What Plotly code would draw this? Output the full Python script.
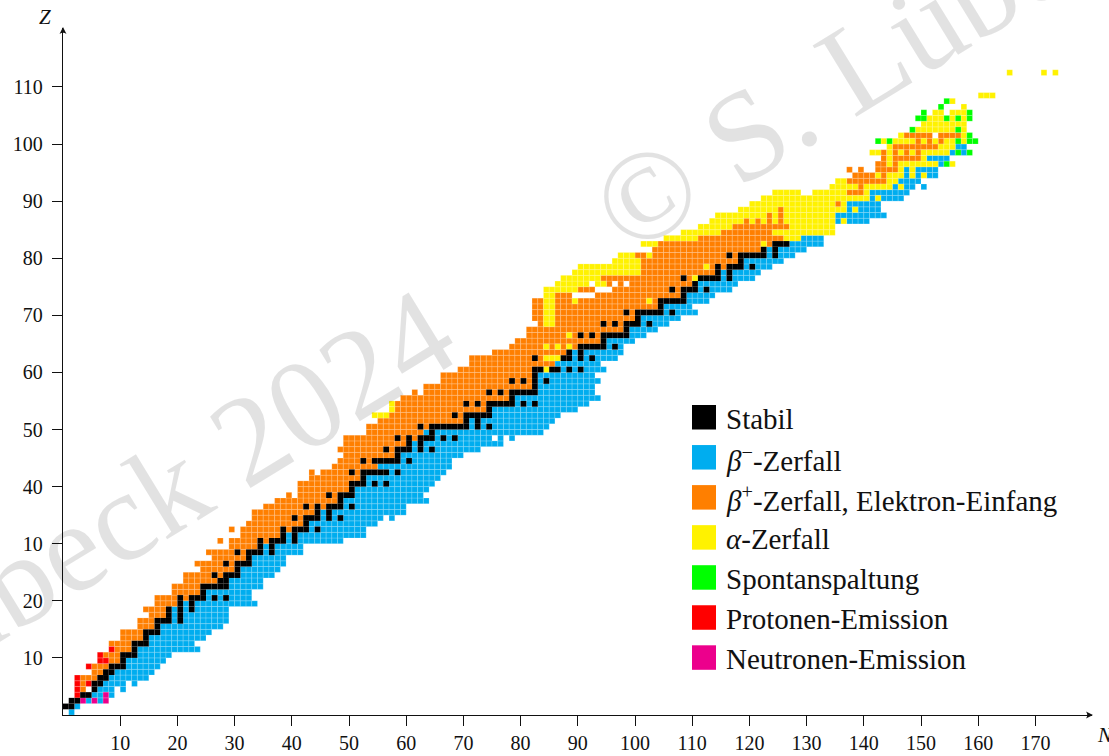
import plotly.graph_objects as go

# Rows of the nuclide chart: proton number, first neutron number, first beta-minus N, last N
row_z = list(range(0, 109)) + [112]
first_n = [1,0,1,2,2,2,2,5,4,6,6,8,8,10,10,13,13,15,14,16,16,19,19,21,21,24,23,26,25,29,
           27,31,29,32,33,33,35,37,39,41,41,43,43,47,48,49,48,49,49,53,53,55,54,57,57,59,61,63,66,66,
           69,71,71,75,78,79,81,81,83,82,82,82,82,84,84,86,87,89,90,96,97,103,101,105,108,111,113,114,118,120,
           122,124,134,135,138,137,142,143,141,144,142,146,148,150,149,150,153,154,160,165]
split_n = [0,2,3,5,6,7,8,9,11,11,13,13,15,15,17,17,19,19,19,21,25,25,29,29,31,31,33,33,35,35,
           39,39,43,43,45,45,49,49,51,51,53,53,57,55,59,59,61,61,65,63,71,71,75,75,79,79,83,83,83,83,
           87,86,89,89,95,95,99,99,101,101,105,105,109,109,111,111,115,115,119,119,123,123,127,129,135,135,135,135,137,137,
           141,141,145,146,147,147,153,151,155,156,160,159,158,158,159,159,158,156,163,174]
last_n = [1,2,7,8,10,12,14,15,16,17,18,23,22,24,25,27,28,28,28,33,32,32,34,34,36,37,38,38,41,41,
          48,52,52,54,57,59,59,63,62,63,64,65,66,67,67,69,72,76,78,83,84,85,86,89,91,93,92,92,93,92,
          94,93,96,97,97,99,101,103,105,107,110,109,112,113,116,117,120,121,123,125,127,129,132,132,134,134,140,143,142,142,
          146,147,150,149,152,152,155,154,158,157,159,158,157,157,158,158,157,155,162,173]

stable_n = {1:"0,1",2:"1,2",3:"3,4",4:"5",5:"5,6",6:"6,7",7:"7,8",8:"8-10",9:"10",10:"10-12",11:"12",12:"12-14",
 13:"14",14:"14-16",15:"16",16:"16-18,20",17:"18,20",18:"18,20,22",19:"20,22",20:"20,22-24,26,28",21:"24",22:"24-28",
 23:"27,28",24:"26,28-30",25:"30",26:"28,30-32",27:"32",28:"30,32-34,36",29:"34,36",30:"34,36-38,40",31:"38,40",
 32:"38,40-42,44",33:"42",34:"40,42-44,46,48",35:"44,46",36:"42,44,46-48,50",37:"48",38:"46,48-50",39:"50",
 40:"50-52,54,56",41:"52",42:"50,52-56,58",44:"52,54-58,60",45:"58",46:"56,58-60,62,64",47:"60,62",
 48:"58,60,62-64,66,68",49:"64",50:"62,64-70,72,74",51:"70,72",52:"68,70-74",53:"74",54:"70,72,74-78,80,82",55:"78",
 56:"74,76,78-82",57:"82",58:"78,80,82,84",59:"82",60:"82,83,85,86,88,90",62:"82,87,88,90,92",63:"88,90",64:"90-94,96",
 65:"94",66:"90,92,94-98",67:"98",68:"94,96,98-100,102",69:"100",70:"98,100-104,106",71:"104",72:"104-108",73:"108",
 74:"106,108-110,112",75:"110",76:"108,111-114,116",77:"114,116",78:"114,116-118,120",79:"118",80:"116,118-122,124",
 81:"122,124",82:"124-126"}
alpha_n = {52:"54-56",53:"57",54:"57",60:"84",62:"84-86",64:"84,86,88",66:"88",68:"84,85",69:"84,85",70:"84,85",71:"84,85",
 72:"84,85,89,102",73:"84,85",74:"84-89",75:"86-91,93,94",76:"87-93,110",77:"89-100",78:"90-100,112",79:"96-100",
 80:"97-99,102",82:"101-103,122",83:"105-110,126-128",84:"108-114,124-134",85:"111-116,127-134",
 86:"113-118,120,122,124,126-134,136",87:"114-122,124,126-134",88:"118-124,126-136,138",89:"120-134,136",90:"122-140,142",
 91:"124-128,131-136,140",92:"134-138,140-144,146",93:"135,136,144,145",94:"142,144-146,148,150",95:"146,148",
 96:"144,146-152,155",97:"144,150",98:"141,142,144,146,148,150-154",99:"144,153-155",100:"143,145-148,150,152,154,155,157",
 101:"146,157",102:"149-155,157",103:"150-157",104:"151-153,155,157",105:"152,153,155-157",106:"157",107:"155",
 108:"160-162",112:"165,171,173"}
fission_n = {96:"154",98:"156,158",100:"142,144,156,158,159",101:"158",102:"148,156",104:"149,150,154,156,158",
 105:"150,158",106:"153",107:"154"}
proton_n = {3:"2",4:"2",5:"2,4",6:"2",8:"4",9:"6,7",10:"6",11:"8"}
neutron_n = {2:"3,5,7",3:"7"}
missing_n = {4:"4,9",5:"11",30:"28",32:"30",34:"56",38:"40",42:"44",48:"75,77",56:"62",73:"89-92",74:"93-95",75:"92,96,98",
 91:"129,130",92:"149",95:"138,140,141",101:"152",105:"151,154",106:"154-156",112:"166-170,172"}

x_tick_values = [10,20,30,40,50,60,70,80,90,100,110,120,130,140,150,160,170]
x_tick_labels = [str(v) for v in x_tick_values]
y_tick_values = [10,20,30,40,50,60,70,80,90,100,110]
y_tick_labels = ["10","20","10","40","50","60","70","80","90","100","110"]

series_names = ["Stabil", "<i>β</i><sup>−</sup>-Zerfall", "<i>β</i><sup>+</sup>-Zerfall, Elektron-Einfang",
                "<i>α</i>-Zerfall", "Spontanspaltung", "Protonen-Emission", "Neutronen-Emission"]
series_colors = ["#000000", "#00ADEF", "#FF7F00", "#FFF200", "#00FF00", "#FF0000", "#EC008C"]
SER = "Liberation Serif"


def expand(text):
    out = set()
    for part in text.split(","):
        if "-" in part:
            a, b = part.split("-")
            out.update(range(int(a), int(b) + 1))
        else:
            out.add(int(part))
    return out


cells = {k: ([], []) for k in range(7)}
for i, z in enumerate(row_z):
    st = expand(stable_n.get(z, "999"))
    al = expand(alpha_n.get(z, "999"))
    fi = expand(fission_n.get(z, "999"))
    pr = expand(proton_n.get(z, "999"))
    ne = expand(neutron_n.get(z, "999"))
    mi = expand(missing_n.get(z, "999"))
    for n in range(first_n[i], last_n[i] + 1):
        if n in mi:
            continue
        if n in st: k = 0
        elif n in fi: k = 4
        elif n in al: k = 3
        elif n in pr: k = 5
        elif n in ne: k = 6
        elif n >= split_n[i]: k = 1
        else: k = 2
        cells[k][0].append(n + 0.5)
        cells[k][1].append(z + 0.5)

fig = go.Figure()
for k in [1, 2, 3, 4, 5, 6, 0]:
    fig.add_trace(go.Scatter(
        x=cells[k][0], y=cells[k][1], mode="markers", name=series_names[k], showlegend=False,
        hoverinfo="skip",
        marker=dict(symbol="square", size=5.72, color=series_colors[k],
                    line=dict(width=0.5 if k else 0, color="rgba(255,255,255,0.35)"))))

W, H = 1109, 756
L, R, T, B = 63, 1092, 28, 715
shapes, notes = [], []
px = lambda v: (v - L) / (R - L)
py = lambda v: (B - v) / (B - T)
for k, (name, col) in enumerate(zip(series_names, series_colors)):
    y0 = 405 + 40.05 * k
    shapes.append(dict(type="rect", xref="paper", yref="paper", x0=px(692), x1=px(716), y0=py(y0), y1=py(y0 + 24.5),
                       fillcolor=col, line=dict(width=0)))
    notes.append(dict(xref="paper", yref="paper", x=px(727), y=py(y0 + 13.5), text=name, showarrow=False,
                      xanchor="left", yanchor="middle", font=dict(family=SER, size=29, color="#111"), align="left",
                      xshift=-3))

# arrow heads of the two axes
shapes.append(dict(type="path", xref="paper", yref="paper", fillcolor="#111", line=dict(width=0),
                   path=f"M {px(1093)} {py(715)} L {px(1086)} {py(711.5)} Q {px(1088.5)} {py(715)} {px(1086)} {py(718.5)} Z"))
shapes.append(dict(type="path", xref="paper", yref="paper", fillcolor="#111", line=dict(width=0),
                   path=f"M {px(63)} {py(27)} L {px(59.5)} {py(34)} Q {px(63)} {py(31.5)} {px(66.5)} {py(34)} Z"))

gap = "\u00a0" * 5
notes.append(dict(xref="paper", yref="paper", x=px(578), y=py(237), text="S. Lübeck 2024" + gap + " © S. Lübeck 2024",
                  showarrow=False, textangle=-31.5, font=dict(family=SER, size=128, color="rgba(0,0,0,0.115)"),
                  xanchor="center", yanchor="middle"))
notes.append(dict(xref="paper", yref="paper", x=px(1105), y=py(735), text="<i>N</i>", showarrow=False,
                  xanchor="center", yanchor="middle", font=dict(family=SER, size=21, color="#111")))
notes.append(dict(xref="paper", yref="paper", x=px(45), y=py(17), text="<i>Z</i>", showarrow=False,
                  xanchor="center", yanchor="middle", font=dict(family=SER, size=21, color="#111")))

axis = dict(showgrid=False, zeroline=False, showline=True, linecolor="#111", linewidth=1.3, ticks="outside", ticklen=10,
            tickwidth=1.2, tickcolor="#111", tickfont=dict(family=SER, size=20, color="#111"), automargin=False)
fig.update_layout(
    width=W, height=H, margin=dict(l=L, r=W - R, t=T, b=H - B), paper_bgcolor="white", plot_bgcolor="rgba(0,0,0,0)",
    xaxis=dict(range=[0, (R - L) / 5.72], tickvals=x_tick_values, ticktext=x_tick_labels, ticklabelstandoff=0, **axis),
    yaxis=dict(range=[0, (B - T) / 5.71], tickvals=y_tick_values, ticktext=y_tick_labels, ticklabelstandoff=5, **axis),
    shapes=shapes, annotations=notes, showlegend=False)

fig.write_html("out.html", config=dict(displayModeBar=False),
               post_script="document.body.style.margin='0';document.documentElement.style.overflow='hidden';")
